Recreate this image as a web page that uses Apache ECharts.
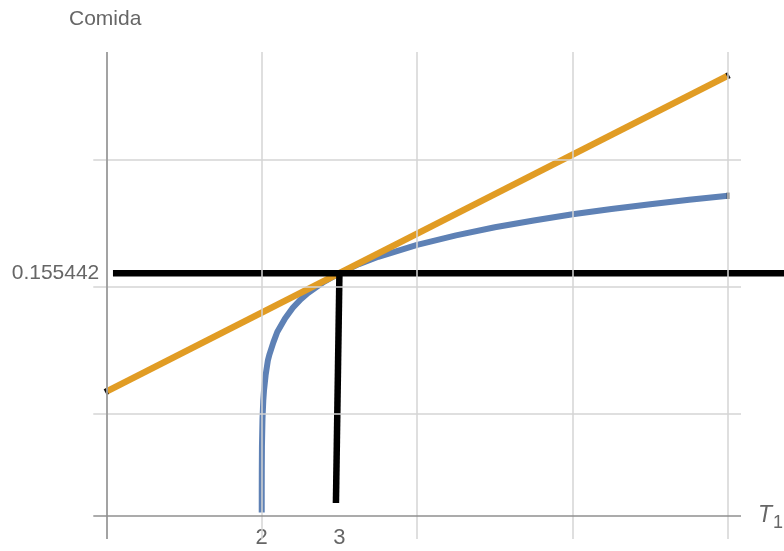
<!DOCTYPE html>
<html>
<head>
<meta charset="utf-8">
<script src="https://cdn.jsdelivr.net/npm/echarts@6/dist/echarts.min.js"></script>
<style>
  html, body { margin: 0; padding: 0; background: #fff; }
  #chart { width: 784px; height: 551px; }
</style>
</head>
<body>
<div id="chart"></div>
<script>
// Food (Comida) as a function of T1: concave curve, its tangent at T1 = 3,
// and the level / drop lines marking the point of tangency.
const curveX = [2.0001, 2.0003, 2.001, 2.003, 2.01, 2.02, 2.03, 2.05, 2.08, 2.1, 2.15, 2.2, 2.3, 2.4, 2.5, 2.6, 2.8, 3, 3.25, 3.5, 4, 4.5, 5, 5.5, 6, 6.5, 7, 7.5, 8];
const curveY = [0.0612, 0.0693, 0.0779, 0.0873, 0.0982, 0.1052, 0.1095, 0.1152, 0.1212, 0.1235, 0.1282, 0.1323, 0.1376, 0.1418, 0.1451, 0.1477, 0.1520, 0.155442, 0.1590, 0.1619, 0.1666, 0.1703, 0.1735, 0.1762, 0.1786, 0.1807, 0.1826, 0.1843, 0.1859];

const tangentX = [0, 8];
const tangentY = [0.1088, 0.2332];

const levelX = [0.086, 9.6];
const levelY = [0.155442, 0.155442];

const dropX = [3, 2.955];
const dropY = [0.155442, 0.0650];

const xGrid = [0, 2, 4, 6, 8];
const yGrid = [0.1, 0.15, 0.2];
const xTickLabels = [2, 3];
const yTickLabels = [0.155442];
const xAxisOrigin = 0;
const yAxisOrigin = 0.0602;

const X_MIN = -0.167, X_MAX = 8.167;
const Y_MIN = 0.0508, Y_MAX = 0.2425;

const pairs = (xs, ys) => xs.map((x, i) => [x, ys[i]]);

const FONT = '"Liberation Sans", Arial, sans-serif';
const TEXT = '#666666';

// small black end caps on the coloured curves
const capped = (pts, ends, rot) => pts.map((p, i) => {
  const k = ends.indexOf(i);
  if (k < 0) return { value: p, symbol: 'none' };
  return { value: p, symbol: 'rect', symbolSize: [2.5, 6.5], symbolRotate: rot[k], itemStyle: { color: '#111' } };
});

const chart = echarts.init(document.getElementById('chart'), null, { renderer: 'canvas' });

const gridLeft = 93.3, gridTop = 52, gridBottom = 12;
const plotWidth = 647.7;
const unit = plotWidth / (X_MAX - X_MIN);

chart.setOption({
  animation: false,
  backgroundColor: '#ffffff',
  title: [
    {
      text: 'Comida',
      left: 69, top: 9, padding: 0,
      textStyle: { fontFamily: FONT, fontSize: 21, fontWeight: 'normal', color: TEXT }
    },
    {
      text: '{t|T}{s|1}',
      left: 758, top: 499, padding: 0,
      textStyle: {
        fontWeight: 'normal',
        rich: {
          t: { fontFamily: FONT, fontSize: 23, fontStyle: 'italic', fontWeight: 'normal', color: TEXT },
          s: { fontFamily: FONT, fontSize: 18, fontWeight: 'normal', color: TEXT, padding: [15, 0, 0, 1] }
        }
      }
    }
  ],
  grid: [
    { left: gridLeft, width: plotWidth, top: gridTop, bottom: gridBottom, outerBoundsMode: 'none', containLabel: false },
    // wider companion grid with the same scale, for the level line that runs off the right edge
    { left: gridLeft, width: unit * 10, top: gridTop, bottom: gridBottom, outerBoundsMode: 'none', containLabel: false }
  ],
  xAxis: [
    {
      type: 'value', gridIndex: 0,
      min: X_MIN, max: X_MAX,
      axisLine: { show: false },
      axisTick: { show: false },
      splitLine: { show: false },
      axisLabel: {
        customValues: xTickLabels,
        margin: -12,
        fontFamily: FONT, fontSize: 22, color: TEXT,
        formatter: v => String(v)
      }
    },
    {
      type: 'value', gridIndex: 1, show: false,
      min: X_MIN, max: X_MIN + 10
    }
  ],
  yAxis: [
    {
      type: 'value', gridIndex: 0,
      min: Y_MIN, max: Y_MAX,
      axisLine: { show: false },
      axisTick: { show: false },
      splitLine: { show: false },
      axisLabel: {
        customValues: yTickLabels,
        margin: -6,
        fontFamily: FONT, fontSize: 21, color: TEXT,
        formatter: v => v.toFixed(6)
      }
    },
    {
      type: 'value', gridIndex: 1, show: false,
      min: Y_MIN, max: Y_MAX
    }
  ],
  series: [
    {
      // grid lines and axes
      type: 'line',
      data: [],
      z: 1,
      markLine: {
        silent: true,
        symbol: ['none', 'none'],
        label: { show: false },
        animation: false,
        data: [
          ...xGrid.map(v => ({ xAxis: v, lineStyle: { color: '#d4d4d4', width: 1.5, type: 'solid' } })),
          ...yGrid.map(v => ({ yAxis: v, lineStyle: { color: '#d4d4d4', width: 1.5, type: 'solid' } })),
          { xAxis: xAxisOrigin, lineStyle: { color: '#8f8f8f', width: 1.5, type: 'solid' } },
          { yAxis: yAxisOrigin, lineStyle: { color: '#8f8f8f', width: 1.5, type: 'solid' } }
        ]
      }
    },
    {
      name: 'curve',
      type: 'line',
      data: capped(pairs(curveX, curveY), [curveX.length - 1], [0]),
      showSymbol: true,
      symbol: 'none',
      z: 2,
      lineStyle: { color: '#5E81B5', width: 6, cap: 'butt', join: 'round' }
    },
    {
      name: 'tangent',
      type: 'line',
      data: capped(pairs(tangentX, tangentY), [0, 1], [27, 27]),
      showSymbol: true,
      symbol: 'none',
      z: 3,
      lineStyle: { color: '#E19C24', width: 6.5, cap: 'butt' }
    },
    {
      name: 'level',
      type: 'line',
      xAxisIndex: 1, yAxisIndex: 1,
      data: pairs(levelX, levelY),
      showSymbol: false,
      z: 4,
      lineStyle: { color: '#000000', width: 6.5, cap: 'butt' }
    },
    {
      name: 'drop',
      type: 'line',
      data: pairs(dropX, dropY),
      showSymbol: false,
      z: 4,
      lineStyle: { color: '#000000', width: 6.5, cap: 'butt' }
    }
  ]
});
</script>
</body>
</html>
